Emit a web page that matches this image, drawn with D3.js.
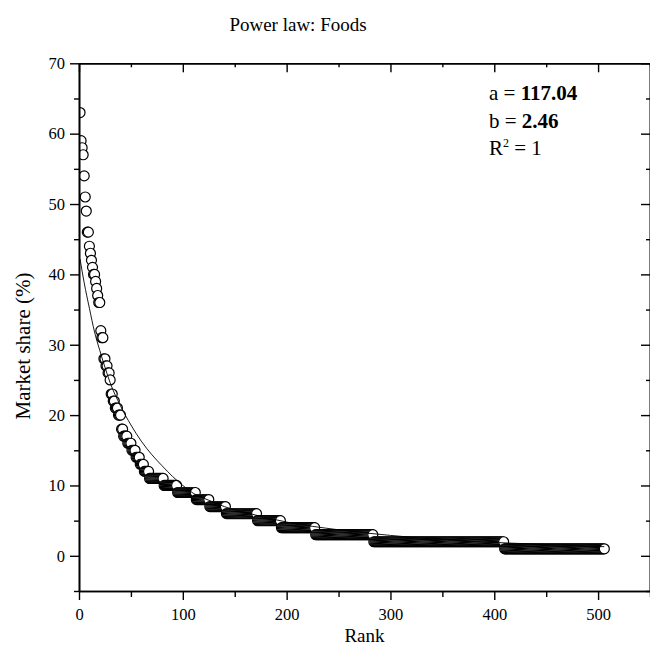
<!DOCTYPE html>
<html>
<head>
<meta charset="utf-8">
<script src="https://cdn.jsdelivr.net/npm/d3@7"></script>
<style>
  body { margin: 0; background: #fff; }
  svg text { font-family: "Liberation Serif", "Times New Roman", serif; fill: #000; }
</style>
</head>
<body>
<svg id="chart" width="650" height="650"></svg>
<script>
// market share levels and the last rank that sits on each level
const shareLevels = [63, 59, 58, 57, 54, 51, 49, 46, 44, 43, 42, 41, 40, 39, 38, 37, 36, 32, 31, 28,
                     27, 26, 25, 23, 22, 21, 20, 18, 17, 16, 15, 14, 13, 12, 11, 10, 9, 8, 7, 6,
                     5, 4, 3, 2, 1];
const levelLastRank = [1, 2, 3, 4, 5, 6, 7, 9, 10, 11, 12, 13, 15, 16, 17, 18, 20, 21, 23, 25,
                       27, 29, 30, 32, 34, 37, 40, 42, 46, 50, 54, 58, 62, 67, 81, 94, 112, 125, 141, 171,
                       194, 227, 283, 409, 506];

// fitted curve
const fitRank  = [1, 5, 10, 15, 20, 25, 30, 40, 50, 60, 70, 80, 90, 100, 110, 125, 140, 170, 200, 250, 300, 350, 400, 450, 506];
const fitShare = [42.2, 38.8, 35.2, 31.8, 29.2, 26.8, 24.6, 21.3, 18.6, 16.3, 14.4, 12.8, 11.3, 10.0, 8.9, 7.9, 7.0, 5.8, 4.8, 3.7, 2.9, 2.3, 1.9, 1.6, 1.3];

const xTicks = [0, 100, 200, 300, 400, 500];
const xMinor = [50, 150, 250, 350, 450, 550];
const yTicks = [0, 10, 20, 30, 40, 50, 60, 70];
const yMinor = [-5, 5, 15, 25, 35, 45, 55, 65];

const fitText = [["a = ", "117.04"], ["b = ", "2.46"]];

// expand the levels into one point per rank
let points = [];
let start = 1;
shareLevels.forEach(function(v, i) {
    for (let r = start; r <= levelLastRank[i]; r++) points.push({rank: r, share: v});
    start = levelLastRank[i] + 1;
});

let chart = d3.select("#chart");
let pLeft = 79, pRight = 650, pTop = 63.3, pBottom = 591;

let x = d3.scaleLinear().domain([0, 550]).range([pLeft, pRight]);
let y = d3.scaleLinear().domain([-5, 70]).range([pBottom, pTop]);

chart.append("rect").attr("width", 650).attr("height", 650).attr("fill", "#fff");

chart.append("defs").append("clipPath").attr("id", "plotclip")
    .append("rect")
    .attr("x", pLeft).attr("y", pTop)
    .attr("width", pRight - pLeft).attr("height", pBottom - pTop);

// points
chart.append("g")
    .attr("clip-path", "url(#plotclip)")
    .selectAll("circle")
    .data(points)
    .enter()
    .append("circle")
    .attr("cx", function(d) { return x(d.rank); })
    .attr("cy", function(d) { return y(d.share); })
    .attr("r", 5)
    .attr("fill", "#fff")
    .attr("stroke", "#000")
    .attr("stroke-width", 1.2);

// fitted line
let line = d3.line()
    .x(function(d) { return x(d[0]); })
    .y(function(d) { return y(d[1]); })
    .curve(d3.curveMonotoneX);

chart.append("path")
    .datum(fitRank.map(function(r, i) { return [r, fitShare[i]]; }))
    .attr("d", line)
    .attr("fill", "none")
    .attr("stroke", "#000")
    .attr("stroke-width", 0.9);

// axes
function styleAxis(g) {
    g.select(".domain").attr("stroke-width", 1.6);
    g.selectAll(".tick line").attr("stroke-width", 1.4);
    g.selectAll(".tick text").style("font-size", "16.5px").style("font-family", "Liberation Serif");
}

chart.append("g").attr("transform", "translate(0," + pBottom + ")")
    .call(d3.axisBottom(x).tickValues(xMinor).tickSize(6).tickFormat("").tickSizeOuter(0))
    .call(styleAxis);
chart.append("g").attr("transform", "translate(0," + pBottom + ")")
    .call(d3.axisBottom(x).tickValues(xTicks).tickSize(9).tickPadding(8).tickFormat(d3.format("d")).tickSizeOuter(0))
    .call(styleAxis);

chart.append("g").attr("transform", "translate(0," + pTop + ")")
    .call(d3.axisBottom(x).tickValues(xMinor).tickSize(4).tickFormat("").tickSizeOuter(0))
    .call(styleAxis);
chart.append("g").attr("transform", "translate(0," + pTop + ")")
    .call(d3.axisBottom(x).tickValues(xTicks).tickSize(9).tickFormat("").tickSizeOuter(0))
    .call(styleAxis);

chart.append("g").attr("transform", "translate(" + pLeft + ",0)")
    .call(d3.axisLeft(y).tickValues(yMinor).tickSize(5).tickFormat("").tickSizeOuter(0))
    .call(styleAxis);
chart.append("g").attr("transform", "translate(" + pLeft + ",0)")
    .call(d3.axisLeft(y).tickValues(yTicks).tickSize(9).tickPadding(5).tickFormat(d3.format("d")).tickSizeOuter(0))
    .call(styleAxis);

chart.append("g").attr("transform", "translate(" + pRight + ",0)")
    .call(d3.axisLeft(y).tickValues(yMinor).tickSize(4).tickFormat("").tickSizeOuter(0))
    .call(styleAxis);
chart.append("g").attr("transform", "translate(" + pRight + ",0)")
    .call(d3.axisLeft(y).tickValues(yTicks).tickSize(9).tickFormat("").tickSizeOuter(0))
    .call(styleAxis);

// titles
chart.append("text")
    .attr("x", 298).attr("y", 31)
    .attr("text-anchor", "middle")
    .style("font-size", "19px")
    .text("Power law: Foods");

chart.append("text")
    .attr("x", (pLeft + pRight) / 2).attr("y", 642)
    .attr("text-anchor", "middle")
    .style("font-size", "19px")
    .text("Rank");

chart.append("text")
    .attr("transform", "translate(30," + 346 + ") rotate(-90)")
    .attr("text-anchor", "middle")
    .style("font-size", "21px")
    .text("Market share (%)");

// fit parameters
fitText.forEach(function(t, i) {
    let txt = chart.append("text")
        .attr("x", 489).attr("y", 100 + i * 27.5)
        .style("font-size", "21px");
    txt.append("tspan").text(t[0]);
    txt.append("tspan").style("font-weight", "bold").text(t[1]);
});
let r2 = chart.append("text")
    .attr("x", 489).attr("y", 155)
    .style("font-size", "21px");
r2.append("tspan").text("R");
r2.append("tspan").attr("dy", -8).style("font-size", "12px").text("2");
r2.append("tspan").attr("dy", 8).text(" = 1");
</script>
</body>
</html>
